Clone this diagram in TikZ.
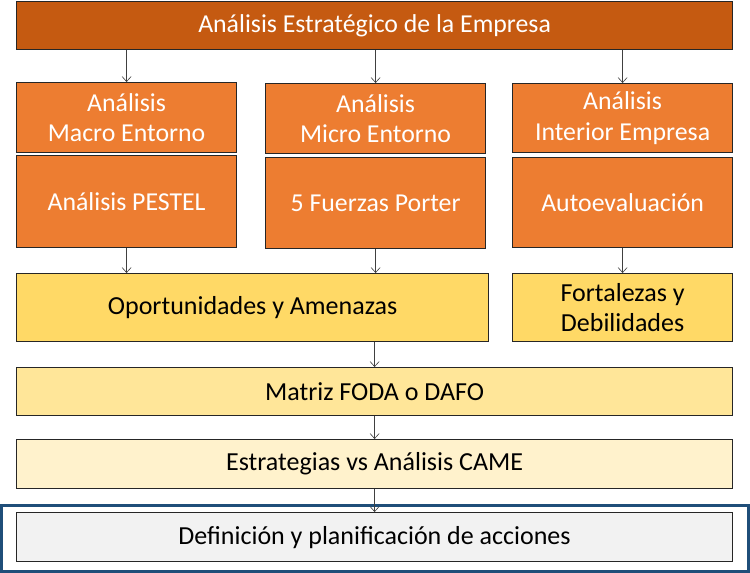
\documentclass[tikz,border=0pt]{standalone}
\usepackage{fontspec}
\setmainfont{Carlito}
\usetikzlibrary{arrows.meta}
\definecolor{topor}{HTML}{C55A11}
\definecolor{orb}{HTML}{ED7D31}
\definecolor{ye1}{HTML}{FFD966}
\definecolor{ye2}{HTML}{FFE699}
\definecolor{ye3}{HTML}{FFF2CC}
\definecolor{gr1}{HTML}{F2F2F2}
\definecolor{frameblue}{HTML}{1F4E79}
\definecolor{edge}{HTML}{262626}
\definecolor{arr}{HTML}{404040}
\begin{document}
\begin{tikzpicture}[x=1pt,y=-1pt,
  box/.style={draw=edge,line width=1.2pt,anchor=north west,inner sep=0pt,align=center,font=\fontsize{25.8}{30.5}\selectfont},
  obox/.style={box,fill=orb,text=white},
  ybox/.style={box,text=black,font=\fontsize{26}{30}\selectfont},
  conn/.style={draw=arr,line width=0.6pt,-{Straight Barb[length=5pt,width=9pt]}}]
\useasboundingbox (0,0) rectangle (750,573);
\fill[white] (0,0) rectangle (750,573);
\node[box,fill=topor,text=white,minimum width=716pt,minimum height=48pt] (top) at (16,1) {Análisis Estratégico de la Empresa};
\node[obox,minimum width=220pt,minimum height=70pt] (macro) at (16,82) {Análisis\\Macro Entorno};
\node[obox,minimum width=220pt,minimum height=92pt] (pestel) at (16,155) {Análisis PESTEL};
\node[obox,minimum width=220pt,minimum height=70pt] (micro) at (265,83) {Análisis\\Micro Entorno};
\node[obox,minimum width=220pt,minimum height=91pt] (porter) at (265,157) {5 Fuerzas Porter};
\node[obox,minimum width=220pt,minimum height=69pt] (inter) at (512,83) {Análisis\\Interior Empresa};
\node[obox,minimum width=220pt,minimum height=90pt] (auto) at (512,157) {Autoevaluación};
\node[ybox,fill=ye1,minimum width=472pt,minimum height=68pt] (opor) at (16,273) {Oportunidades y Amenazas};
\node[ybox,fill=ye1,minimum width=220pt,minimum height=68pt] (fort) at (512,273) {Fortalezas y\\Debilidades};
\node[ybox,fill=ye2,minimum width=716pt,minimum height=48pt] (matriz) at (16,367) {Matriz FODA o DAFO};
\node[ybox,fill=ye3,minimum width=716pt,minimum height=49pt] (estr) at (16,439) {Estrategias vs Análisis CAME};
\draw[frameblue,line width=3pt] (1.5,505) rectangle (748.5,571.5);
\node[ybox,fill=gr1,minimum width=716pt,minimum height=49pt] (defi) at (16,512) {Definición y planificación de acciones};
\draw[conn] (top.south -| macro.north) -- (macro.north);
\draw[conn] (top.south -| micro.north) -- (micro.north);
\draw[conn] (top.south -| inter.north) -- (inter.north);
\draw[conn] (pestel.south) -- (pestel.south |- opor.north);
\draw[conn] (porter.south) -- (porter.south |- opor.north);
\draw[conn] (auto.south) -- (auto.south |- fort.north);
\draw[conn] (opor.south -| matriz.north) -- (matriz.north);
\draw[conn] (matriz.south) -- (estr.north);
\draw[conn] (estr.south) -- (defi.north);
\end{tikzpicture}
\end{document}
